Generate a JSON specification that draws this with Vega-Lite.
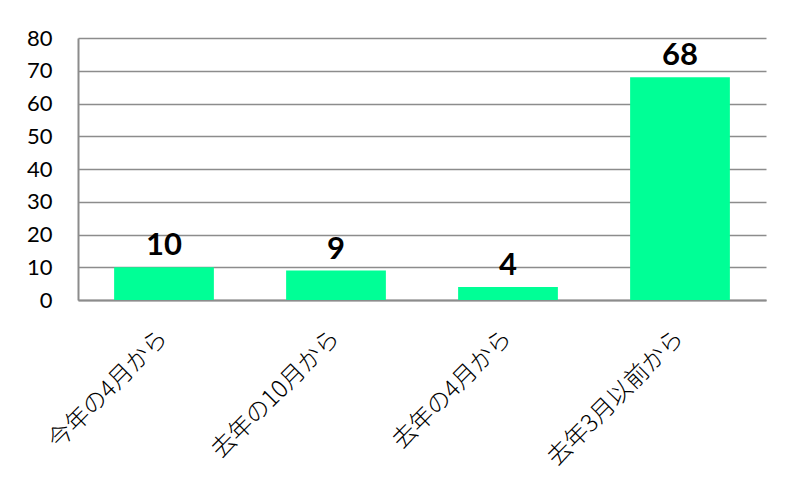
{
  "$schema": "https://vega.github.io/schema/vega-lite/v6.json",
  "width": 688,
  "height": 262,
  "autosize": {"type": "none"},
  "padding": {"left": 78, "top": 38, "right": 29, "bottom": 192},
  "background": "white",
  "config": {"view": {"stroke": null}},
  "data": {"values": [
    {"cat": "今年の4月から", "v": 10},
    {"cat": "去年の10月から", "v": 9},
    {"cat": "去年の4月から", "v": 4},
    {"cat": "去年3月以前から", "v": 68}
  ]},
  "encoding": {
    "x": {"field": "cat", "type": "nominal", "sort": null,
      "scale": {"paddingInner": 0.42, "paddingOuter": 0.21},
      "axis": {"title": null, "labelAngle": -45, "labelAlign": "right", "labelBaseline": "middle", "labelLimit": 400,
        "labelFont": "Noto Sans CJK JP", "labelFontSize": 24, "labelFontWeight": 300, "labelColor": "#000", "labelPadding": 34,
        "ticks": false, "domainColor": "#8c8c8c", "domainWidth": 2, "grid": false}},
    "y": {"field": "v", "type": "quantitative",
      "scale": {"domain": [0, 80]},
      "axis": {"title": null, "values": [0,10,20,30,40,50,60,70,80], "labelFont": "Lato", "labelFontSize": 22,
        "labelColor": "#000", "labelPadding": 26, "ticks": false, "domainColor": "#8c8c8c", "domainWidth": 2,
        "gridColor": "#8c8c8c", "gridWidth": 1.5}}
  },
  "layer": [
    {"mark": {"type": "bar", "color": "#00FF96"}},
    {"mark": {"type": "text", "font": "Lato", "fontWeight": "bold", "fontSize": 31, "dy": -12, "baseline": "alphabetic", "color": "#000"},
     "encoding": {"text": {"field": "v", "type": "quantitative"}}}
  ]
}
